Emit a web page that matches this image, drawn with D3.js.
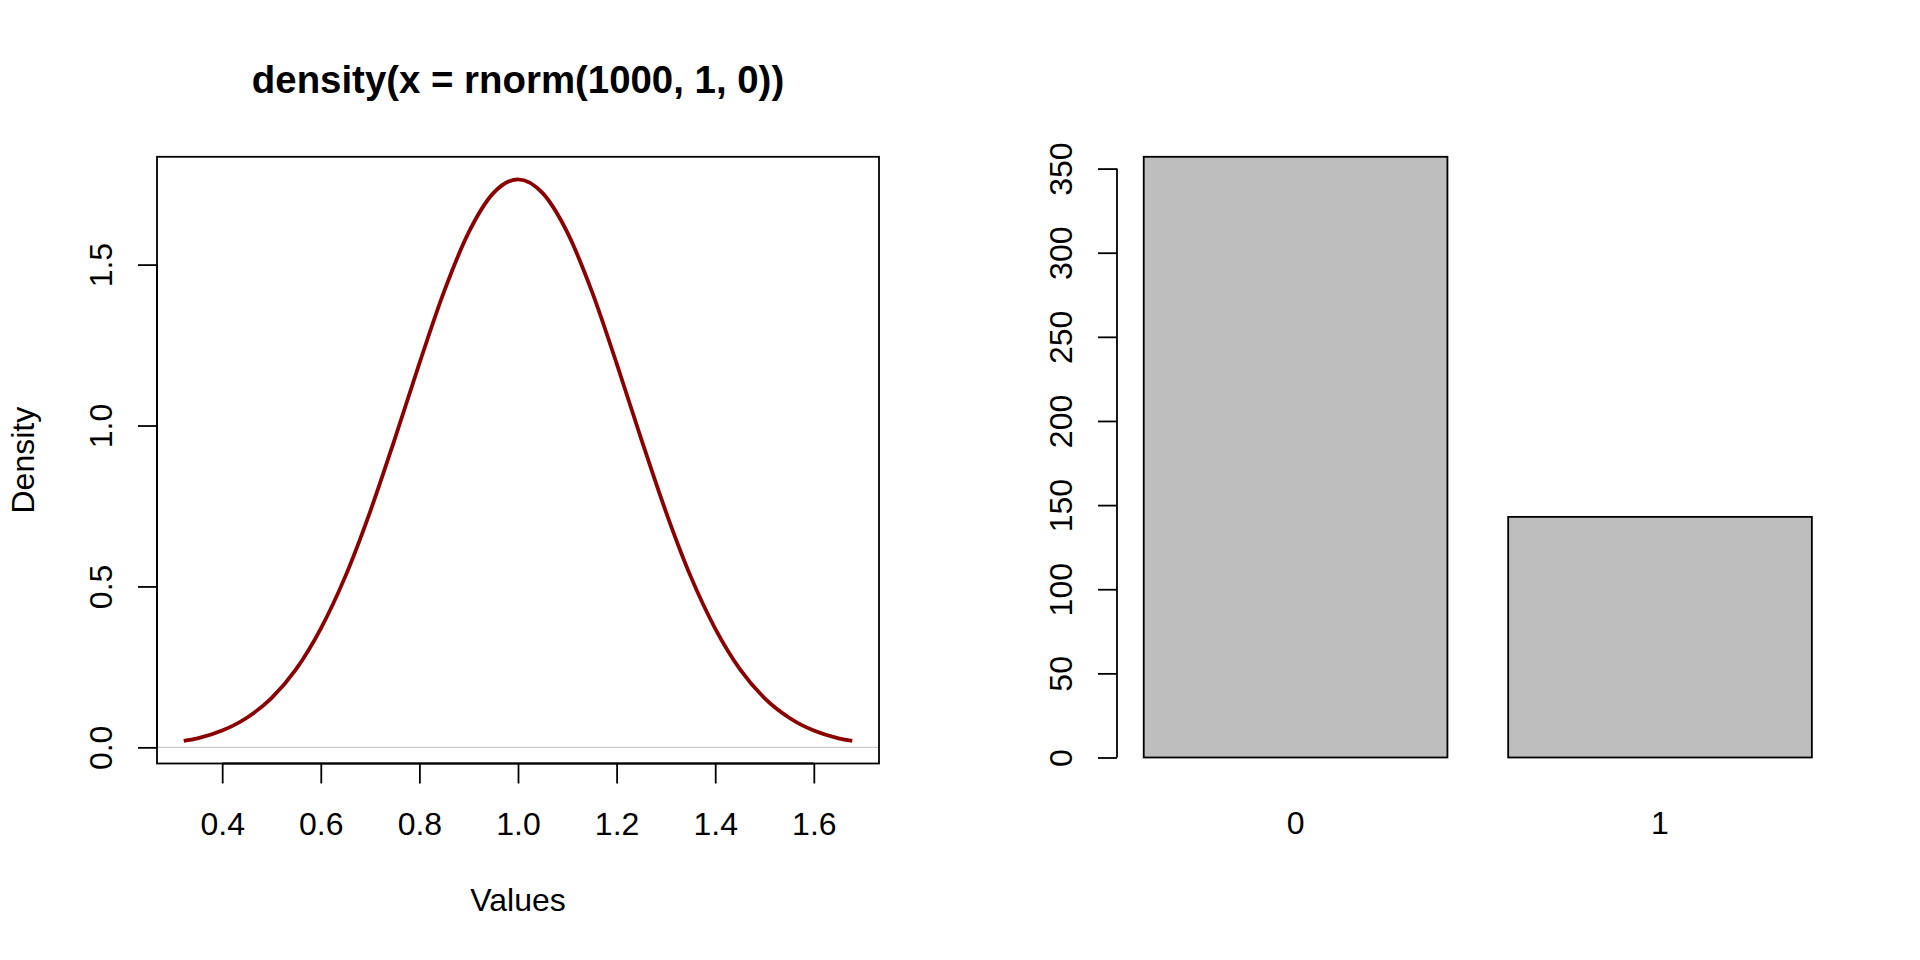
<!DOCTYPE html>
<html>
<head>
<meta charset="utf-8">
<script src="https://cdn.jsdelivr.net/npm/d3@7"></script>
<style>
  html, body { margin: 0; padding: 0; background: #fff; }
  svg { display: block; font-family: "Liberation Sans", Arial, sans-serif; }
</style>
</head>
<body>
<div class="chart"></div>
<script>
// density curve
const densX = [0.322, 0.35, 0.40, 0.45, 0.50, 0.55, 0.60, 0.65, 0.70, 0.75, 0.80, 0.85, 0.90, 0.95,
  1.00, 1.05, 1.10, 1.15, 1.20, 1.25, 1.30, 1.35, 1.40, 1.45, 1.50, 1.55, 1.60, 1.65, 1.678];
const densY = [0.020, 0.028, 0.052, 0.092, 0.153, 0.243, 0.369, 0.532, 0.732, 0.958, 1.193, 1.416, 1.600, 1.722,
  1.765, 1.722, 1.600, 1.416, 1.193, 0.958, 0.732, 0.532, 0.369, 0.243, 0.153, 0.092, 0.052, 0.028, 0.020];
const densXTicks = [0.4, 0.6, 0.8, 1.0, 1.2, 1.4, 1.6];
const densYTicks = [0, 0.5, 1.0, 1.5];

// bar counts, right panel
const barCats = ['0', '1'];
const barVals = [357, 143];
const barYTicks = [0, 50, 100, 150, 200, 250, 300, 350];

const W = 1920, H = 960;
const plotTop = 156.8, plotBottom = 763.5;
const fontSize = 32;

const svg = d3.select('.chart')
  .append('svg')
  .attr('width', W)
  .attr('height', H);

function styleAxis(g) {
  g.select('.domain').remove();
  g.selectAll('.tick line').attr('stroke', '#000').attr('stroke-width', 1.8);
  g.selectAll('.tick text')
    .attr('fill', '#000')
    .style('font-size', fontSize + 'px')
    .style('font-family', '"Liberation Sans", Arial, sans-serif');
}

// ---------- left panel: density ----------
const xScale = d3.scaleLinear()
  .domain([0.2678, 1.7322])
  .range([157, 879]);

const yScale = d3.scaleLinear()
  .domain([-0.0502, 1.835])
  .range([plotBottom, plotTop]);

// zero line
svg.append('line')
  .attr('x1', xScale.range()[0])
  .attr('x2', xScale.range()[1])
  .attr('y1', yScale(0))
  .attr('y2', yScale(0))
  .attr('stroke', '#bebebe')
  .attr('stroke-width', 1);

const line = d3.line()
  .x(d => xScale(d[0]))
  .y(d => yScale(d[1]))
  .curve(d3.curveMonotoneX);

svg.append('path')
  .datum(d3.zip(densX, densY))
  .attr('d', line)
  .attr('fill', 'none')
  .attr('stroke', '#8b0000')
  .attr('stroke-width', 3.8)
  .attr('stroke-linejoin', 'round');

// box
svg.append('rect')
  .attr('x', xScale.range()[0])
  .attr('y', plotTop)
  .attr('width', xScale.range()[1] - xScale.range()[0])
  .attr('height', plotBottom - plotTop)
  .attr('fill', 'none')
  .attr('stroke', '#000')
  .attr('stroke-width', 1.8);

const xAxis = svg.append('g')
  .attr('transform', `translate(0, ${plotBottom})`)
  .call(d3.axisBottom(xScale).tickValues(densXTicks).tickSize(20).tickFormat(d3.format('.1f')))
  .call(styleAxis);
xAxis.selectAll('.tick text').attr('y', 71).attr('dy', null);
xAxis.append('line')
  .attr('x1', xScale(d3.min(densXTicks)))
  .attr('x2', xScale(d3.max(densXTicks)))
  .attr('stroke', '#000')
  .attr('stroke-width', 1.8);

const yAxis = svg.append('g')
  .attr('transform', `translate(${xScale.range()[0]}, 0)`)
  .call(d3.axisLeft(yScale).tickValues(densYTicks).tickSize(19).tickFormat(d3.format('.1f')))
  .call(styleAxis);
yAxis.selectAll('.tick text')
  .attr('x', null)
  .attr('dy', null)
  .attr('text-anchor', 'middle')
  .attr('transform', 'translate(-44.7, 0) rotate(-90)');
yAxis.append('line')
  .attr('y1', yScale(d3.min(densYTicks)))
  .attr('y2', yScale(d3.max(densYTicks)))
  .attr('stroke', '#000')
  .attr('stroke-width', 1.8);

const midX = d3.mean(xScale.range());

svg.append('text')
  .attr('x', midX)
  .attr('y', 93)
  .attr('text-anchor', 'middle')
  .style('font-size', '38.4px')
  .style('font-weight', 'bold')
  .text('density(x = rnorm(1000, 1, 0))');

svg.append('text')
  .attr('x', midX)
  .attr('y', 911)
  .attr('text-anchor', 'middle')
  .style('font-size', fontSize + 'px')
  .text('Values');

svg.append('text')
  .attr('transform', `translate(34.3, ${(plotTop + plotBottom) / 2}) rotate(-90)`)
  .attr('text-anchor', 'middle')
  .style('font-size', fontSize + 'px')
  .text('Density');

// ---------- right panel: barplot ----------
const barWidth = 1, barSpace = 0.2;
const bx = d3.scaleLinear()
  .domain([0.112, 2.488])
  .range([1117, 1838.6]);

const by = d3.scaleLinear()
  .domain([-3.57, 357])
  .range([plotBottom, plotTop]);

const bars = barCats.map((c, i) => ({
  cat: c,
  value: barVals[i],
  left: barSpace + i * (barWidth + barSpace)
}));

svg.selectAll('.bar')
  .data(bars)
  .enter()
  .append('rect')
  .classed('bar', true)
  .attr('x', d => bx(d.left))
  .attr('width', d => bx(d.left + barWidth) - bx(d.left))
  .attr('y', d => by(d.value))
  .attr('height', d => by(0) - by(d.value))
  .attr('fill', '#bebebe')
  .attr('stroke', '#000')
  .attr('stroke-width', 1.8);

svg.selectAll('.bar-label')
  .data(bars)
  .enter()
  .append('text')
  .classed('bar-label', true)
  .attr('x', d => bx(d.left + barWidth / 2))
  .attr('y', 834)
  .attr('text-anchor', 'middle')
  .style('font-size', fontSize + 'px')
  .text(d => d.cat);

const byAxis = svg.append('g')
  .attr('transform', `translate(${bx.range()[0]}, 0)`)
  .call(d3.axisLeft(by).tickValues(barYTicks).tickSize(19))
  .call(styleAxis);
byAxis.selectAll('.tick text')
  .attr('x', null)
  .attr('dy', null)
  .attr('text-anchor', 'middle')
  .attr('transform', 'translate(-44.7, 0) rotate(-90)');
byAxis.append('line')
  .attr('y1', by(d3.min(barYTicks)))
  .attr('y2', by(d3.max(barYTicks)))
  .attr('stroke', '#000')
  .attr('stroke-width', 1.8);
</script>
</body>
</html>
